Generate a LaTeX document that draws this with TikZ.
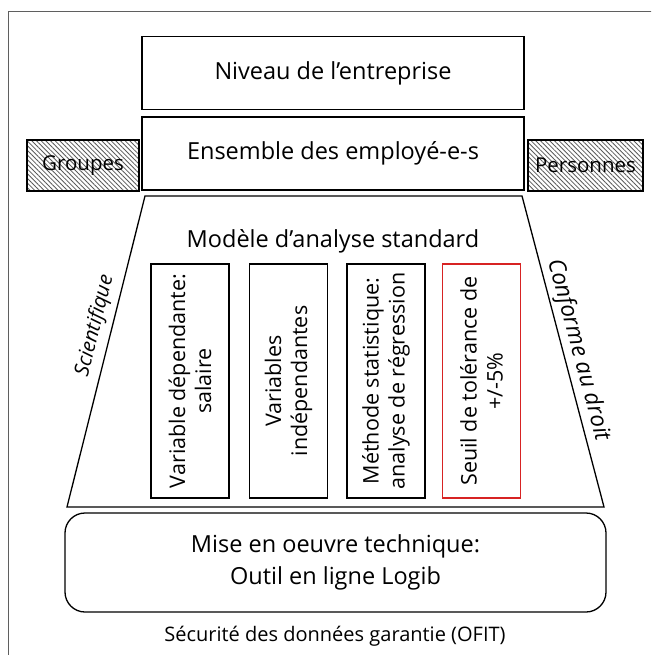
\documentclass[tikz,border=0pt]{standalone}
\usepackage{fontspec}
\setmainfont{Open Sans}
\usetikzlibrary{patterns.meta}
\definecolor{OFITred}{RGB}{215,35,35}
\definecolor{OFITframe}{RGB}{95,95,95}
\definecolor{OFIThatch}{RGB}{90,90,90}
\tikzset{
    levelbox/.style={draw, line width=1.3pt, minimum width=382, minimum height=73},
    hatchbox/.style={draw, line width=1.3pt, pattern={Lines[angle=-45, distance=3.3pt, line width=0.8pt]}, pattern color=OFIThatch, minimum width=112, minimum height=51, inner sep=1pt, font=\fontsize{20.5}{24}\selectfont},
    colbox/.style={draw, line width=1.3pt, rotate=90, minimum width=234, minimum height=78, align=center, font=\fontsize{21.5}{26}\selectfont}
}
\newcommand{\drawcolumn}[4][]{
    \node[colbox,#1] (#2) at (#3,381) {#4};
}

\begin{document}
\begin{tikzpicture}[x=1pt, y=-1pt, every node/.append style={font=\fontsize{23.5}{28}\selectfont}]
\clip (0,0) rectangle (651,655);
%Frame
\draw[OFITframe, line width=1pt] (8,12) rectangle (700,700);
%Top boxes
\node[levelbox] (niveau) at (333,73) {Niveau de l'entreprise};
\node[levelbox] (ensemble) at (333,153.5) {Ensemble des employé-e-s};
%Side boxes
\node[hatchbox] (groupes) at (83,165.5) {Groupes};
\node[hatchbox, minimum width=115] (personnes) at (585.5,165.5) {Personnes};
%Trapezoid
\coordinate (tl) at (145,196);
\coordinate (tr) at (522,196);
\coordinate (br) at (604,507);
\coordinate (bl) at (67,507);
\draw[line width=1.3pt] (tl) -- (tr) -- (br) -- (bl) -- cycle;
\node (modele) at (333,241) {Modèle d'analyse standard};
\node[rotate=76, font=\fontsize{20.5}{24}\selectfont\itshape] (scient) at (95,326) {Scientifique};
\node[rotate=-75, font=\fontsize{23}{28}\selectfont\itshape] (droit) at (578,350) {Conforme au droit};
%Columns
\drawcolumn{dependante}{190}{Variable dépendante:\\salaire}
\drawcolumn{independantes}{288.5}{Variables\\indépendantes}
\drawcolumn{methode}{386}{Méthode statistique:\\analyse de régression}
\drawcolumn[draw=OFITred]{seuil}{481.5}{Seuil de tolérance de\\+/-5\%}
%Bottom
\node[draw, line width=1.3pt, rounded corners=20, minimum width=541, minimum height=99, align=center, font=\fontsize{23.5}{32}\selectfont] (logib) at (335.5,562.5) {Mise en oeuvre technique:\\Outil en ligne Logib};
\node[font=\fontsize{20}{24}\selectfont] (securite) at (335,636) {Sécurité des données garantie (OFIT)};
\end{tikzpicture}
\end{document}
